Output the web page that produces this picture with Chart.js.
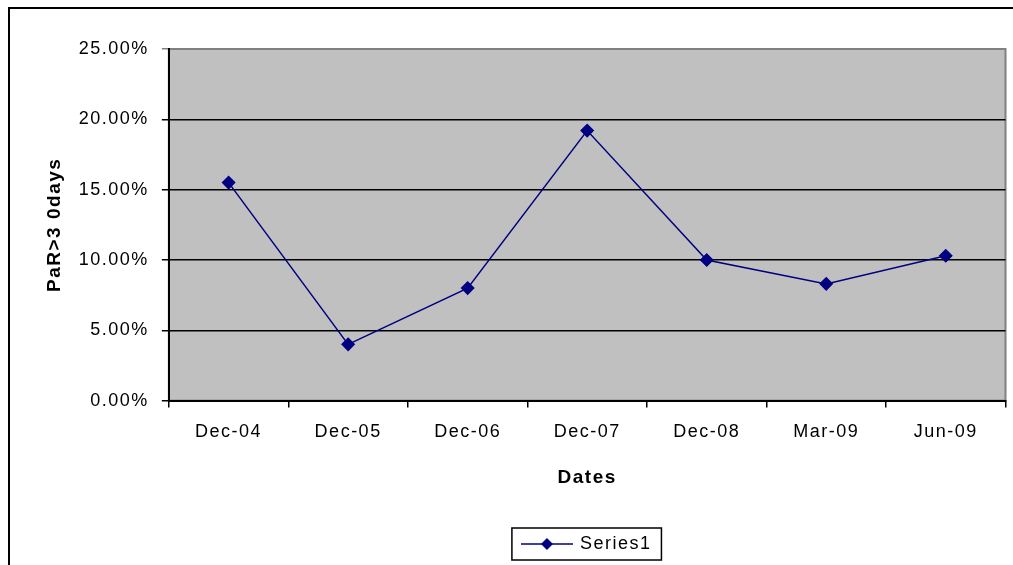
<!DOCTYPE html>
<html lang="en">
<head>
  <meta charset="UTF-8">
  <title>PaR>3 0days</title>
  <script src="https://cdn.jsdelivr.net/npm/chart.js"></script>
  <style>
    html, body { margin: 0; padding: 0; background: #fff; }
    .wrap { width: 1013px; height: 565px; position: relative; }
  </style>
</head>
<body>
  <div class="wrap"><canvas id="parChart"></canvas></div>

  <script>
    // data
    const dates = ['Dec-04', 'Dec-05', 'Dec-06', 'Dec-07', 'Dec-08', 'Mar-09', 'Jun-09'];
    const par30 = [0.155, 0.040, 0.080, 0.192, 0.100, 0.083, 0.103];
    const yMin = 0, yMax = 0.25, yStep = 0.05;

    const navy = '#000080';
    const fontFamily = '"Liberation Sans", Arial, sans-serif';

    // legend symbol: line with diamond
    const marker = document.createElement('canvas');
    marker.width = 52;
    marker.height = 14;
    const m = marker.getContext('2d');
    m.strokeStyle = navy;
    m.lineWidth = 1.5;
    m.beginPath(); m.moveTo(0, 7); m.lineTo(52, 7); m.stroke();
    m.fillStyle = navy;
    m.beginPath(); m.moveTo(26, 1); m.lineTo(32, 7); m.lineTo(26, 13); m.lineTo(20, 7); m.closePath(); m.fill();

    // the old excel text is drawn a bit wide
    const spacing = {
      id: 'spacing',
      beforeUpdate(chart) { chart.ctx.letterSpacing = '1.5px'; },
      beforeDraw(chart) { chart.ctx.letterSpacing = '1.5px'; }
    };

    const frame = {
      id: 'frame',
      beforeDraw(chart) {
        const { ctx, chartArea: a } = chart;
        ctx.save();
        ctx.fillStyle = '#fff';
        ctx.fillRect(0, 0, chart.width, chart.height);
        ctx.strokeStyle = '#000';
        ctx.lineWidth = 2;
        ctx.strokeRect(9, 8, chart.width + 20, chart.height + 20);
        ctx.fillStyle = '#c0c0c0';
        ctx.fillRect(a.left, a.top, a.right - a.left, a.bottom - a.top);
        ctx.strokeStyle = '#808080';
        ctx.lineWidth = 2;
        ctx.strokeRect(a.left, a.top, a.right - a.left, a.bottom - a.top);
        ctx.restore();
      },
      afterDraw(chart) {
        const hb = chart.legend.legendHitBoxes[0];
        if (!hb) return;
        const ctx = chart.ctx;
        ctx.save();
        ctx.strokeStyle = '#000';
        ctx.lineWidth = 1.5;
        ctx.strokeRect(hb.left - 11, hb.top - 7, hb.width + 21, hb.height + 14);
        ctx.restore();
      }
    };

    new Chart(document.getElementById('parChart'), {
      type: 'line',
      data: {
        labels: dates,
        datasets: [{
          label: 'Series1',
          data: par30,
          borderColor: navy,
          backgroundColor: navy,
          borderWidth: 1.5,
          pointStyle: 'rectRot',
          pointRadius: 6,
          pointHoverRadius: 6,
          tension: 0,
          fill: false
        }]
      },
      options: {
        responsive: true,
        maintainAspectRatio: false,
        animation: false,
        layout: { padding: { left: 19, right: 7, top: 49, bottom: 2 } },
        plugins: {
          tooltip: { enabled: false },
          legend: {
            position: 'bottom',
            fullSize: false,
            labels: {
              usePointStyle: true,
              pointStyle: marker,
              pointStyleWidth: 48,
              color: '#000',
              font: { family: fontFamily, size: 18 },
              padding: 10
            }
          }
        },
        scales: {
          x: {
            offset: true,
            grid: { display: true, drawOnChartArea: false, offset: true, tickLength: 7, color: '#000', lineWidth: 1.5 },
            border: { color: '#000', width: 2 },
            ticks: { color: '#000', font: { family: fontFamily, size: 18 }, padding: 14, maxRotation: 0 },
            title: {
              display: true,
              text: 'Dates',
              color: '#000',
              font: { family: fontFamily, size: 19, weight: 'bold' },
              padding: { top: 9, bottom: 36 }
            }
          },
          y: {
            min: yMin,
            max: yMax,
            grid: {
              tickLength: 7,
              lineWidth: 1.5,
              color: c => (c.tick && c.tick.value >= yMax - 1e-9) ? '#808080' : '#000'
            },
            border: { color: '#000', width: 2 },
            ticks: {
              stepSize: yStep,
              color: '#000',
              padding: 13,
              font: { family: fontFamily, size: 18 },
              callback: v => (v * 100).toFixed(2) + '%'
            },
            title: {
              display: true,
              text: 'PaR>3 0days',
              color: '#000',
              font: { family: fontFamily, size: 19, weight: 'bold' },
              padding: { top: 24, bottom: 0 }
            }
          }
        }
      },
      plugins: [spacing, frame]
    });
  </script>
</body>
</html>
